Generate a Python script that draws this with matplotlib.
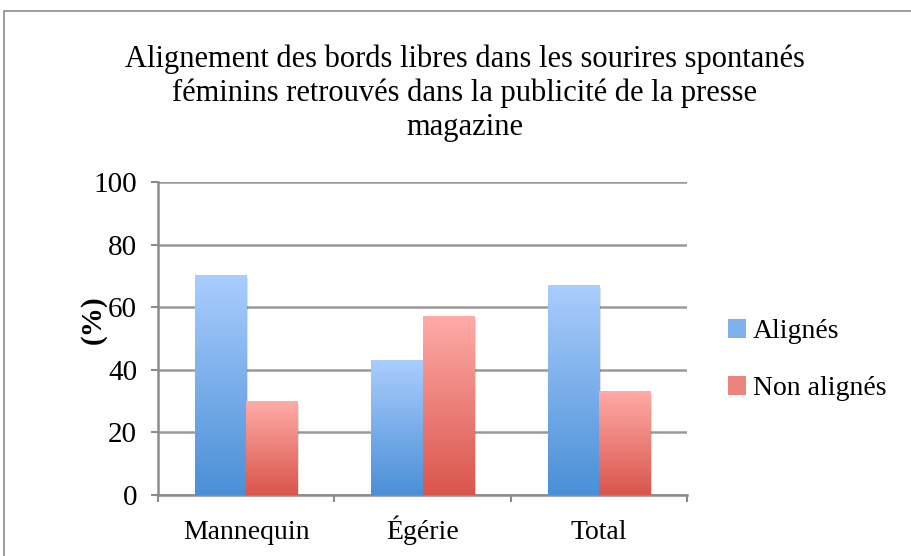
import numpy as np
import matplotlib.pyplot as plt
from matplotlib.patches import Rectangle
from matplotlib.colors import LinearSegmentedColormap

plt.rcParams['font.family'] = ['Liberation Serif', 'DejaVu Serif']

# données (%)
categories = ['Mannequin', 'Égérie', 'Total']
alignes = [70, 43, 67]
non_alignes = [30, 57, 33]
series_names = ['Alignés', 'Non alignés']

# dégradés façon Excel (bas foncé -> haut clair)
bleu = LinearSegmentedColormap.from_list('bleu', ['#4a8fd7', '#aacdfd'])
rouge = LinearSegmentedColormap.from_list('rouge', ['#d9554b', '#ffaba7'])

fig = plt.figure(figsize=(9.11, 5.56), dpi=100)
ax = fig.add_axes([158 / 911, 61 / 556, 529 / 911, 313 / 556])

# cadre gris autour du graphique
fig.patches.append(Rectangle((4 / 911, -0.01), 1.0, 1 - 11 / 556 + 0.01,
                             transform=fig.transFigure, fill=False,
                             edgecolor='#8c8c8c', linewidth=1.2))

x = np.arange(len(categories))
w = 0.29
grad = np.linspace(0, 1, 256).reshape(-1, 1)

for vals, cmap, off, name in [(alignes, bleu, -w / 2, series_names[0]),
                              (non_alignes, rouge, w / 2, series_names[1])]:
    bars = ax.bar(x + off, vals, w, color='none', edgecolor='none', zorder=3)
    for b in bars:
        x0, y0 = b.get_x(), b.get_y()
        bw, bh = b.get_width(), b.get_height()
        # petite ombre portée
        ax.add_patch(Rectangle((x0 + 0.012, y0), bw, bh - 0.8, color='#000000',
                               alpha=0.12, zorder=2.5, linewidth=0))
        ax.imshow(grad, cmap=cmap, origin='lower', aspect='auto',
                  extent=(x0, x0 + bw, y0, y0 + bh), zorder=3)
    ax.bar([0], [0], color=cmap(0.55), label=name)

ax.set_xlim(-0.5, len(categories) - 0.5)
ax.set_ylim(0, 100)
ax.set_yticks(range(0, 101, 20))
ax.set_xticks(np.arange(-0.5, len(categories), 1.0), minor=False)
ax.set_xticklabels([])
ax.set_xticks(x, minor=True)
ax.set_xticklabels(categories, minor=True)
ax.tick_params(axis='x', which='minor', length=0, pad=32, labelsize=20)
for t in ax.get_xticklabels(minor=True):
    t.set_va('baseline')
ax.tick_params(axis='x', which='major', length=5, width=1.5, color='#8c8c8c')
ax.tick_params(axis='y', length=5, width=1.5, color='#8c8c8c', labelsize=21, pad=10)

ax.grid(axis='y', color='#999999', linewidth=1.8, zorder=0)
ax.set_axisbelow(True)
for s in ['top', 'right']:
    ax.spines[s].set_visible(False)
for s in ['left', 'bottom']:
    ax.spines[s].set_color('#8c8c8c')
    ax.spines[s].set_linewidth(1.8)

ax.set_ylabel('(%)', fontsize=21, fontweight='bold')
ax.yaxis.set_label_coords(-0.097, 0.56)

fig.text(0.51, 1 - 142 / 556, 'Alignement des bords libres dans les sourires spontanés\n'
         'féminins retrouvés dans la publicité de la presse\nmagazine',
         ha='center', va='bottom', fontsize=22, linespacing=1.22)

leg = ax.legend(loc='center left', bbox_to_anchor=(1.03, 0.43), frameon=False,
                fontsize=20, handlelength=0.65, handleheight=0.65,
                handletextpad=0.25, labelspacing=1.15)

fig.savefig('out.png', dpi=100)
